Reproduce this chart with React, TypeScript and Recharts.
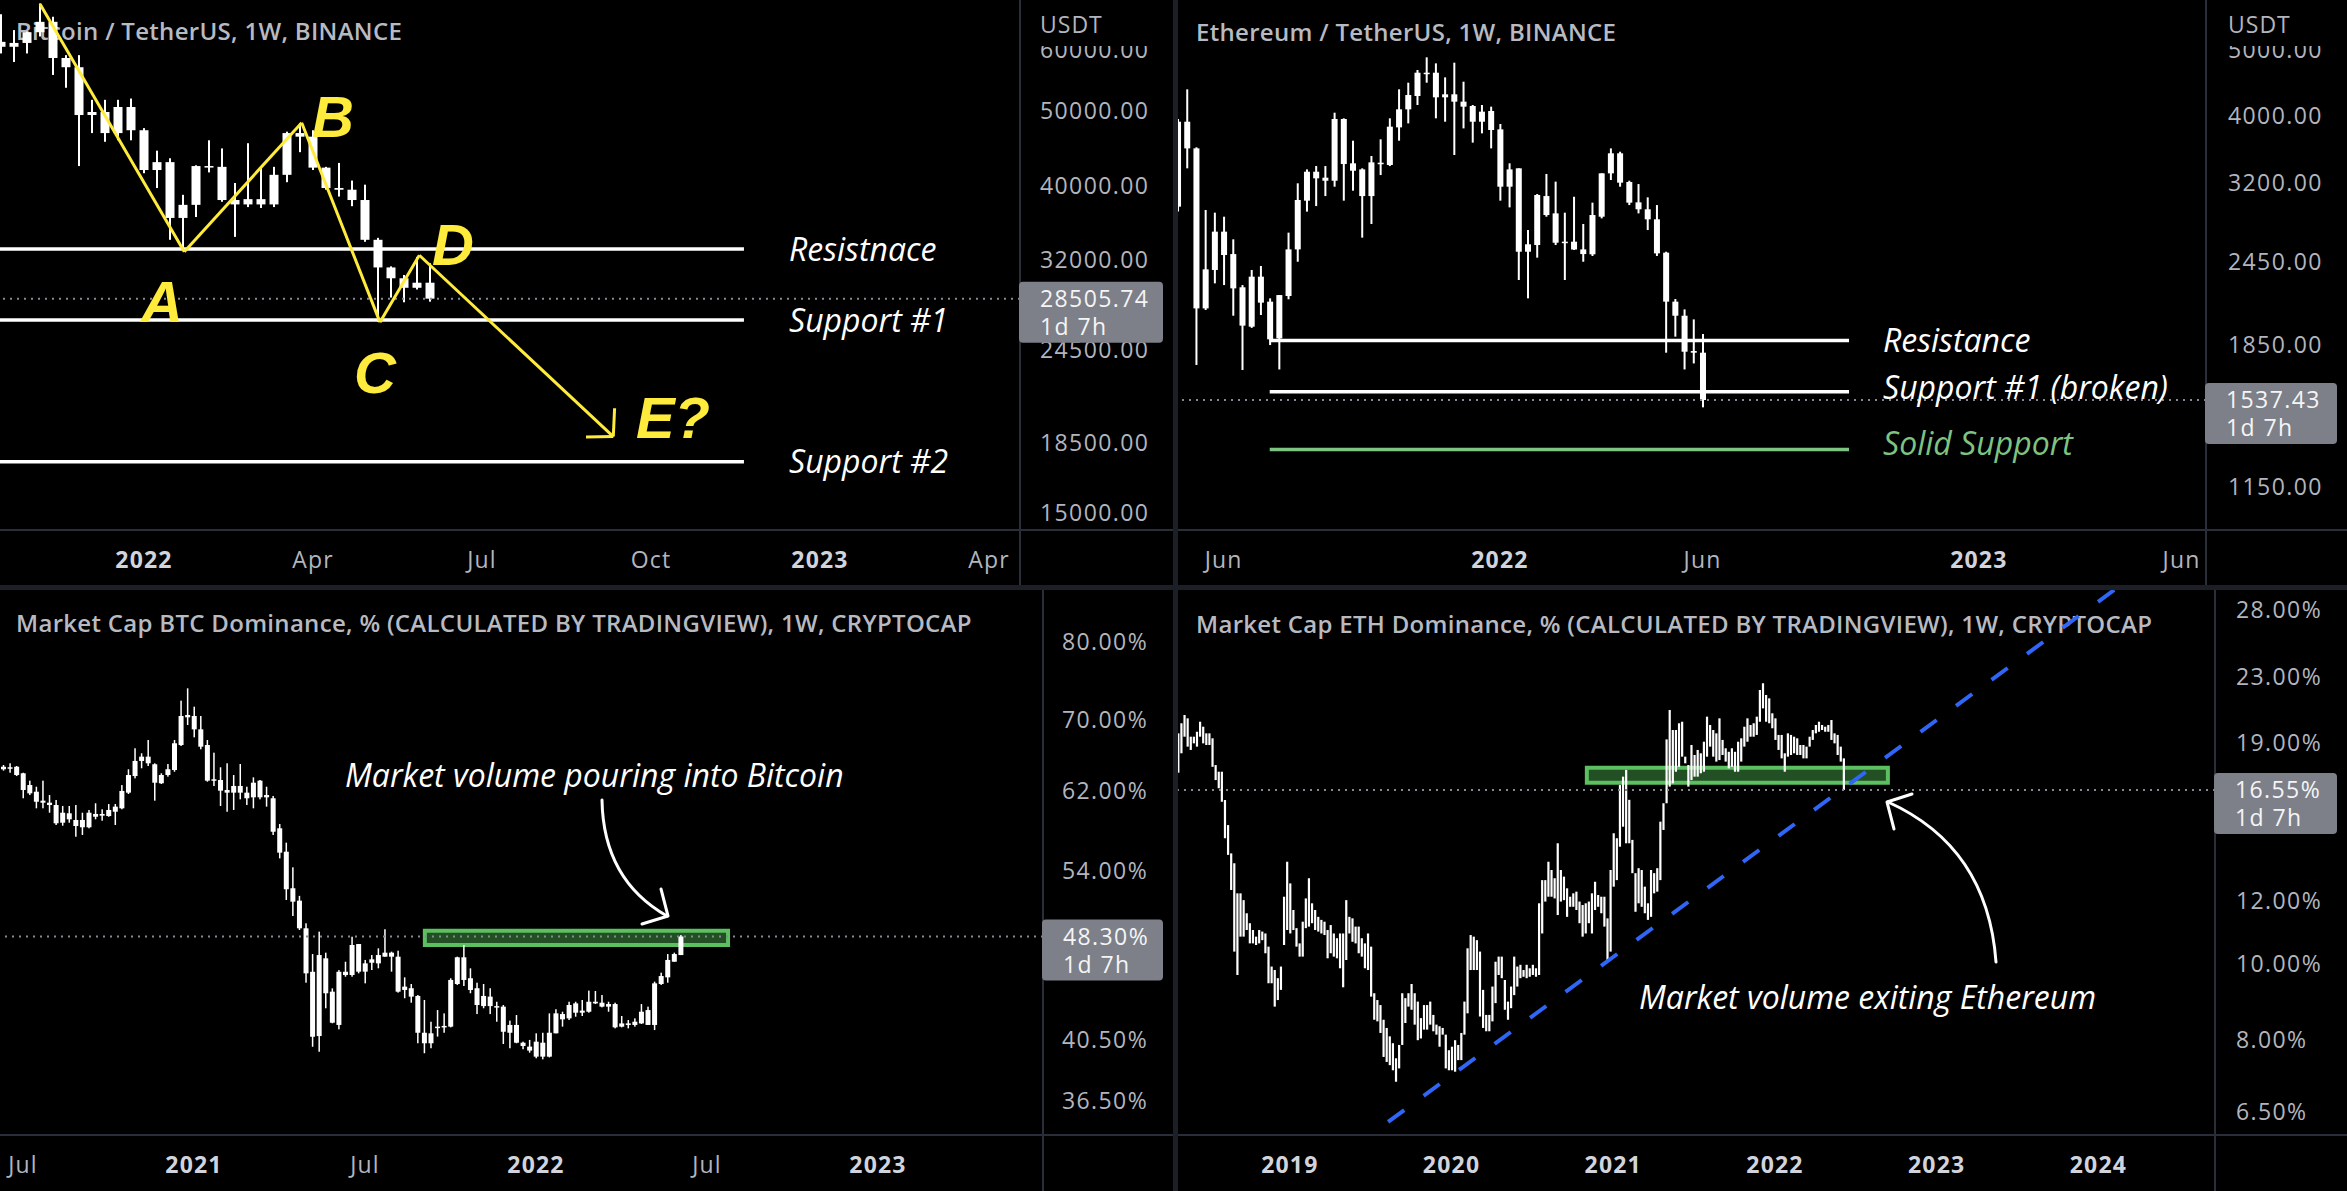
import React from 'react';
import { ComposedChart, Bar, XAxis, YAxis, ReferenceLine, ReferenceArea } from 'recharts';

const AXIS_FONT = '"Open Sans", "Noto Sans", sans-serif';
const NOTE_FONT = '"Open Sans", "Noto Sans", sans-serif';
const LETTER_FONT = '"Liberation Sans", Arial, sans-serif';
const TICK = '#b2b5be';
const BORDER = '#2a2e39';
const YELLOW = '#ffeb3b';
const GREEN = '#7fc382';

// week index 0 = week of 3 Jan 2022

// ---- Bitcoin / TetherUS, 1W  (o, h, l, c)
const btcStart = -11;
const btcOhlc = [
  [61500, 66800, 59400, 60600], [60600, 63700, 57900, 61300], [61300, 63400, 59400, 63300],
  [63300, 69000, 62500, 65300], [65300, 66300, 55700, 58600], [58600, 59100, 53600, 57000],
  [57000, 59100, 42400, 49400], [49400, 51700, 46800, 49850], [49850, 51700, 45600, 46800],
  [46800, 51700, 45800, 50600], [50600, 51900, 45800, 47200], [47200, 47500, 41500, 41900],
  [41900, 44400, 39700, 42900], [42900, 43400, 34000, 36300], [36300, 38900, 33000, 37750],
  [37750, 42500, 36400, 42400], [42400, 45800, 41600, 42300], [42300, 44700, 38100, 38300],
  [38300, 40300, 34300, 37800], [37800, 45400, 37500, 38400], [38400, 42300, 37400, 37800],
  [37800, 42300, 37500, 41300], [41300, 47000, 40400, 46800], [46800, 48200, 44200, 46300],
  [46300, 47200, 41900, 42200], [42200, 42300, 39500, 39700], [39700, 42800, 38700, 39500],
  [39500, 40600, 37600, 38300], [38300, 40100, 33800, 34000], [34000, 34200, 26600, 31300],
  [31300, 31400, 28600, 30300], [30300, 30600, 28200, 29450], [29450, 32300, 29300, 29900],
  [29900, 31700, 28250, 28505.74],
];
const btcLast = 28505.74;
const btcXTicks = [0, 13, 26, 39, 52, 65];
const btcXLabels = ['2022', 'Apr', 'Jul', 'Oct', '2023', 'Apr'];
const btcYTicks = [15000, 18500, 24500, 32000, 40000, 50000, 60000];
const btcLevels = [33070, 26740, 17490];
const btcLevelNames = ['Resistnace', 'Support #1', 'Support #2'];
const btcLevelSpan = [-12, 46.15];
const btcWave = [[-8, 68900], [3.1, 32810], [12.13, 48280], [18.15, 26570], [21.18, 32460], [36.1, 18865]];
const btcArrowHead = [[36.2, 20530], [36.1, 18865], [34.0, 18840]];

// ---- Ethereum / TetherUS, 1W  (o, h, l, c)
const ethStart = -35;
const ethOhlc = [
  [2948, 3960, 2900, 3924], [3924, 4376, 3354, 3587], [3587, 3600, 1730, 2093], [2093, 2915, 2082, 2387],
  [2382, 2889, 2277, 2710], [2710, 2850, 2264, 2505], [2513, 2641, 2042, 2239], [2247, 2264, 1701, 1975],
  [1968, 2382, 1960, 2329], [2329, 2414, 2047, 2134], [2141, 2165, 1850, 1886], [1892, 2189, 1704, 2189],
  [2182, 2701, 2158, 2553], [2553, 3189, 2449, 3015], [3008, 3342, 2899, 3316], [3316, 3380, 2954, 3243],
  [3250, 3380, 3055, 3217], [3217, 4045, 3153, 3960], [3960, 3969, 3008, 3403], [3411, 3681, 3111, 3327],
  [3342, 3354, 2656, 3055], [3055, 3496, 2781, 3422], [3418, 3698, 3279, 3403], [3392, 3969, 3380, 3859],
  [3850, 4376, 3681, 4091], [4091, 4475, 3902, 4293], [4279, 4670, 4151, 4628], [4608, 4874, 4475, 4628],
  [4628, 4776, 3969, 4260], [4260, 4556, 3924, 4303], [4303, 4787, 3508, 4198], [4198, 4490, 3837, 4128],
  [4137, 4151, 3657, 3924], [3924, 4151, 3773, 4059], [4068, 4128, 3587, 3816], [3824, 3894, 3008, 3153],
  [3153, 3411, 2941, 3342], [3354, 3354, 2303, 2533], [2533, 2725, 2165, 2597], [2591, 3076, 2483, 3066],
  [3055, 3291, 2850, 2866], [2882, 3207, 2591, 2611], [2611, 2889, 2303, 2620], [2620, 3048, 2548, 2552],
  [2553, 2781, 2449, 2513], [2511, 2988, 2497, 2866], [2850, 3298, 2834, 3298], [3298, 3587, 3225, 3528],
  [3528, 3547, 3153, 3196], [3203, 3217, 2964, 2988], [2991, 3181, 2882, 2922], [2922, 3042, 2725, 2825],
  [2825, 2964, 2497, 2519], [2525, 2533, 1803, 2141], [2141, 2160, 1903, 2042], [2042, 2086, 1704, 1809],
  [1813, 2017, 1739, 1803], [1803, 1920, 1500, 1537.43],
];
const ethLast = 1537.43;
const ethXTicks = [-30, 0, 22, 52, 74];
const ethXLabels = ['Jun', '2022', 'Jun', '2023', 'Jun'];
const ethYTicks = [1150, 1850, 2450, 3200, 4000, 5000];
const ethLevels = [1878, 1581];
const ethLevelNames = ['Resistance', 'Support #1 (broken)'];
const ethSolid = 1301;
const ethLevelSpan = [-25, 37.9];

// ---- BTC dominance %, 1W  (o, h, l, c)
const btcdStart = -81;
const btcdOhlc = [
  [64.56, 64.75, 64.13, 64.28], [64.5, 64.94, 63.9, 64.35], [64.56, 64.64, 63.54, 63.65], [63.84, 63.9, 61.17, 62.04],
  [62.57, 63.04, 61.51, 61.69], [61.86, 62.39, 60.13, 60.81], [60.92, 63.04, 60.13, 60.71], [60.71, 61.51, 59.68, 60.47],
  [60.47, 60.99, 58.44, 58.61], [59.68, 60.37, 58.37, 58.67], [59.62, 60.37, 58.67, 59.01], [58.94, 60.47, 57.28, 58.34],
  [58.94, 59.68, 57.45, 58.21], [59.68, 59.96, 58.11, 58.21], [59.55, 60.65, 59.01, 59.27], [59.55, 60.03, 58.87, 59.38],
  [59.96, 60.57, 59.27, 59.34], [60.3, 60.57, 58.44, 59.78], [61.94, 62.57, 60.03, 60.13], [63.65, 64.28, 61.62, 61.76],
  [65.2, 66.63, 63.29, 63.54], [65.68, 66.06, 64.39, 65.2], [65.68, 67.58, 64.64, 64.94], [64.83, 64.94, 60.92, 62.82],
  [63.65, 63.84, 62.68, 62.76], [64.28, 64.86, 63.47, 63.65], [67.2, 67.58, 64.01, 64.2], [70.41, 72.28, 66.89, 67.0],
  [70.53, 73.82, 69.33, 70.25], [70.41, 71.54, 67.89, 68.82], [68.82, 70.41, 66.51, 66.81], [67.0, 67.58, 62.93, 63.04],
  [63.19, 66.13, 62.47, 63.04], [63.11, 64.5, 60.37, 61.97], [62.04, 64.94, 59.78, 61.76], [62.47, 63.65, 59.96, 61.76],
  [62.47, 64.86, 61.06, 61.76], [61.76, 62.39, 60.47, 61.17], [62.82, 63.4, 60.13, 61.27], [63.04, 63.11, 61.06, 61.27],
  [61.51, 62.39, 60.3, 61.27], [61.17, 61.41, 57.45, 57.77], [58.11, 58.54, 55.2, 55.74], [55.83, 56.7, 51.41, 52.36],
  [52.45, 54.36, 50.02, 51.26], [51.35, 51.77, 48.84, 48.98], [48.98, 49.4, 44.63, 45.35], [45.47, 46.87, 40.0, 40.69],
  [46.79, 48.7, 39.66, 40.74], [46.53, 46.98, 42.72, 43.83], [43.95, 44.2, 41.64, 41.68], [45.47, 45.6, 41.21, 41.52],
  [45.47, 46.26, 45.09, 45.22], [47.6, 48.28, 45.09, 45.22], [47.68, 47.68, 45.35, 45.48], [46.13, 46.4, 44.58, 45.48],
  [46.45, 46.79, 45.61, 46.18], [46.79, 47.33, 45.74, 46.13], [46.98, 48.9, 46.66, 46.66], [46.98, 47.06, 45.48, 46.66],
  [46.66, 47.14, 43.88, 43.95], [44.33, 45.04, 43.46, 44.08], [44.21, 44.53, 43.13, 43.58], [43.63, 43.7, 40.24, 40.97],
  [40.97, 43.33, 39.56, 40.24], [40.93, 41.75, 39.9, 40.24], [41.4, 42.59, 40.7, 41.35], [41.45, 42.35, 40.97, 41.35],
  [44.84, 44.97, 41.35, 41.4], [46.61, 46.66, 44.46, 44.53], [46.61, 47.6, 44.38, 44.84], [44.97, 45.74, 43.83, 44.08],
  [44.21, 44.63, 42.3, 42.96], [43.63, 44.53, 42.72, 42.88], [43.58, 44.21, 42.3, 42.88], [42.88, 43.2, 41.75, 42.84],
  [42.84, 42.96, 40.19, 41.04], [41.52, 41.83, 39.9, 40.97], [41.52, 42.23, 40.24, 40.28], [40.28, 40.35, 39.83, 40.05],
  [40.01, 40.47, 39.6, 39.74], [40.35, 40.93, 39.22, 39.33], [40.28, 40.97, 39.15, 39.33], [40.97, 42.35, 39.28, 39.33],
  [42.35, 42.65, 40.93, 40.93], [42.3, 42.47, 41.4, 41.92], [42.96, 43.2, 41.87, 41.99], [43.08, 43.2, 42.11, 42.4],
  [42.55, 43.33, 42.16, 42.4], [43.2, 44.03, 42.4, 42.47], [43.2, 44.0, 43.03, 43.08], [43.13, 43.7, 42.79, 42.84],
  [43.03, 43.2, 42.47, 42.84], [43.03, 43.13, 41.28, 41.35], [41.63, 42.16, 41.35, 41.4], [41.63, 41.87, 41.28, 41.52],
  [41.75, 41.99, 41.4, 41.52], [42.47, 43.03, 41.59, 41.63], [42.59, 42.84, 41.52, 41.52], [44.58, 44.71, 41.16, 41.52],
  [45.14, 45.4, 44.46, 44.53], [46.4, 46.87, 44.63, 45.04], [46.87, 46.98, 46.26, 46.26], [48.3, 48.42, 46.79, 46.79],
];
const btcdLast = 48.3;
const btcdXTicks = [-78, -52, -26, 0, 26, 52];
const btcdXLabels = ['Jul', '2021', 'Jul', '2022', 'Jul', '2023'];
const btcdYTicks = [36.5, 40.5, 54, 62, 70, 80];
const btcdZoneX = [-16.9, 29.2];
const btcdZoneY = [47.6, 48.78];

// ---- ETH dominance %, 1W  (high, low)
const ethdStart = -192;
const ethdHL = [
  [19.52, 17.41], [20.1, 18.42], [20.59, 19.33], [20.39, 18.78], [19.33, 18.6], [19.33, 18.96], [19.61, 18.78], [20.19, 19.33], [19.9, 18.96], [19.52, 18.87],
  [19.52, 18.87], [19.24, 17.71], [17.8, 17.04], [17.46, 16.64], [17.46, 16.0], [16.08, 14.39], [14.95, 13.71], [13.77, 12.38], [13.38, 10.35], [12.26, 9.67],
  [12.26, 10.81], [12.02, 10.81], [11.57, 11.02], [11.24, 10.6], [11.02, 10.6], [10.81, 10.55], [11.02, 10.6], [10.97, 10.7], [10.91, 10.3], [10.5, 9.44],
  [9.91, 9.44], [9.81, 8.82], [9.58, 8.99], [9.91, 9.26], [12.14, 10.55], [13.44, 11.02], [12.62, 10.91], [11.68, 11.02], [11.08, 10.5], [10.6, 10.2],
  [11.29, 10.2], [12.08, 11.08], [12.81, 11.13], [11.91, 11.24], [11.68, 11.02], [11.45, 10.97], [11.35, 10.91], [11.29, 10.86], [11.02, 10.15], [11.18, 10.3],
  [10.91, 10.2], [10.76, 10.15], [10.91, 9.86], [10.91, 9.33], [12.02, 10.1], [11.45, 10.91], [11.4, 10.65], [11.13, 10.6], [11.13, 10.3], [10.76, 10.2],
  [10.6, 9.86], [10.91, 9.81], [10.5, 9.08], [9.17, 8.49], [8.99, 8.45], [8.86, 8.17], [8.49, 7.62], [8.29, 7.51], [8.09, 7.44], [7.93, 7.33],
  [7.59, 7.09], [7.89, 7.37], [9.17, 7.89], [9.04, 8.41], [9.17, 8.82], [9.42, 8.74], [9.17, 8.37], [8.95, 8.0], [8.53, 8.04], [8.86, 8.25],
  [8.86, 8.25], [8.95, 8.37], [8.61, 8.21], [8.37, 8.13], [8.33, 7.85], [8.29, 8.13], [8.13, 7.37], [7.77, 7.33], [7.85, 7.33], [8.0, 7.3],
  [7.89, 7.55], [8.17, 7.55], [8.95, 8.13], [10.45, 8.65], [10.86, 9.81], [10.81, 9.81], [10.7, 9.81], [10.35, 8.57], [9.26, 8.29], [8.61, 8.21],
  [8.61, 8.21], [9.35, 8.45], [10.05, 8.91], [10.2, 9.67], [10.2, 9.58], [9.53, 8.74], [8.95, 8.49], [9.35, 8.78], [10.2, 9.12], [9.91, 9.35],
  [9.96, 9.58], [9.81, 9.62], [9.96, 9.58], [9.86, 9.62], [9.96, 9.67], [9.86, 9.62],
  [11.91, 9.67], [12.74, 10.91], [12.74, 11.97], [13.44, 12.14], [13.12, 12.14], [12.81, 12.08], [14.18, 11.51], [13.12, 11.97], [12.87, 12.02], [12.44, 11.45],
  [12.14, 11.79], [12.26, 11.79], [12.32, 11.68], [11.97, 11.24], [11.85, 10.81], [11.91, 10.91], [11.97, 11.24], [12.26, 10.91], [12.68, 11.68], [12.2, 11.79],
  [12.14, 11.57], [12.14, 11.13], [11.4, 10.1], [13.12, 10.35], [14.6, 12.5], [14.39, 12.74], [16.8, 14.04], [17.21, 14.88], [17.55, 14.18], [16.09, 14.18],
  [14.32, 13.0], [13.0, 11.62], [13.19, 11.91], [13.12, 11.79], [12.5, 11.57], [11.91, 11.35], [13.12, 11.45], [13.0, 12.26], [13.19, 12.32], [15.1, 12.74],
  [15.93, 14.74], [19.18, 15.93], [20.89, 16.72], [19.71, 16.88], [19.71, 17.46], [20.1, 17.71], [20.19, 18.24], [18.24, 17.89], [17.8, 16.72], [18.87, 17.04],
  [18.33, 17.21], [18.6, 17.21], [18.42, 17.38], [19.05, 17.46], [20.49, 18.24], [20.0, 18.78], [19.71, 18.24], [19.52, 17.98], [20.39, 18.06], [19.15, 18.33],
  [18.69, 17.98], [18.5, 17.63], [18.69, 17.71], [18.5, 17.46], [19.05, 17.46], [19.24, 17.98], [19.9, 18.78], [20.39, 19.05], [20.0, 19.33], [20.1, 19.33],
  [20.49, 19.43], [22.14, 20.19], [22.58, 20.99], [21.82, 20.19], [21.61, 20.1], [20.69, 19.81], [20.39, 19.15], [19.43, 18.6], [19.43, 18.15], [18.42, 17.46],
  [19.52, 18.24], [19.43, 18.33], [19.33, 18.42], [19.24, 18.33], [18.87, 18.33], [18.87, 18.15], [18.78, 18.15], [19.33, 18.78], [19.71, 19.15], [20.0, 19.52],
  [20.19, 19.61], [20.0, 19.71], [19.9, 19.61], [20.0, 19.61], [20.29, 19.15], [19.52, 18.96], [19.43, 18.33], [18.78, 17.98], [18.15, 16.56],
];
const ethdLast = 16.55;
const ethdXTicks = [-156, -104, -52, 0, 52, 104];
const ethdXLabels = ['2019', '2020', '2021', '2022', '2023', '2024'];
const ethdYTicks = [6.5, 8, 10, 12, 19, 23, 28];
const ethdZoneX = [-60.5, 36.3];
const ethdZoneY = [16.91, 17.66];
const ethdTrend = [[-124.4, 6.31], [115, 30.8]];

type Box = { x: number; y: number; w: number; h: number; pw: number; ph: number };
const BTC_BOX: Box = { x: 0, y: 0, w: 1173, h: 585, pw: 1020, ph: 530 };
const ETH_BOX: Box = { x: 1178, y: 0, w: 1169, h: 585, pw: 1028, ph: 530 };
const BTCD_BOX: Box = { x: 0, y: 590, w: 1173, h: 601, pw: 1043, ph: 545 };
const ETHD_BOX: Box = { x: 1178, y: 590, w: 1169, h: 601, pw: 1037, ph: 545 };

const BTC_X = [-11.077, 67.385];
const BTC_Y = [14260, 69710];
const ETH_X = [-34.96, 76.66];
const ETH_Y = [992.5, 5911.6];
const BTCD_X = [-81.5, 77.09];
const BTCD_Y = [34.4, 87.33];
const ETHD_X = [-191.96, 141.48];
const ETHD_Y = [6.073, 29.61];

const ohlcRows = (start: number, arr: number[][]) =>
  arr.map((r, i) => ({ t: start + i, o: r[0], h: r[1], l: r[2], c: r[3] }));
const hlRows = (start: number, arr: number[][]) => arr.map((r, i) => ({ t: start + i, h: r[0], l: r[1] }));

const candleShape = (wick: number) => (p: any) => {
  const { x, y, width, height, payload } = p;
  if (x == null || y == null || !payload) return <g />;
  const { o, h, l, c } = payload;
  const lh = Math.log(h);
  const ll = Math.log(l);
  const at = (v: number) => (lh === ll ? y : y + (height * (lh - Math.log(v))) / (lh - ll));
  const mid = x + width / 2;
  const top = at(Math.max(o, c));
  const bot = at(Math.min(o, c));
  return (
    <g>
      <rect x={mid - wick / 2} y={y} width={wick} height={Math.max(height, 1)} fill="#ffffff" />
      <rect x={x} y={top} width={width} height={Math.max(bot - top, 1.5)} fill="#ffffff" />
    </g>
  );
};

const stickShape = (p: any) => {
  const { x, y, width, height } = p;
  if (x == null || y == null) return <g />;
  return <rect x={x + width / 2 - 1.1} y={y} width={2.2} height={Math.max(height, 1)} fill="#ffffff" />;
};

const yOf = (v: number, dom: number[], box: Box) =>
  box.y + (box.ph * Math.log(dom[1] / v)) / Math.log(dom[1] / dom[0]);

function Panel(props: any) {
  const { box, rows, xDomain, yDomain, xTicks, xLabels, yTicks, yFmt, yLabelX, xLabelY, barSize, shape, under, over } = props;
  const xTick = (p: any) => {
    const lab = xLabels[xTicks.indexOf(p.payload.value)] ?? '';
    const year = /^\d{4}$/.test(lab);
    return (
      <text x={p.x} y={xLabelY} textAnchor="middle" fill={year ? '#d1d4dc' : TICK} fontSize={23}
        fontWeight={year ? 700 : 400} fontFamily={AXIS_FONT} letterSpacing={1.2}>{lab}</text>
    );
  };
  const yTick = (p: any) => (
    <text x={yLabelX} y={p.y} dy="0.36em" textAnchor="start" fill={TICK} fontSize={23}
      fontFamily={AXIS_FONT} letterSpacing={1.4}>{yFmt(p.payload.value)}</text>
  );
  return (
    <div style={{ position: 'absolute', left: box.x, top: box.y, width: box.w, height: box.h }}>
      <ComposedChart width={box.w} height={box.h} data={rows} margin={{ top: 0, right: 0, bottom: 0, left: 0 }}>
        <XAxis type="number" dataKey="t" domain={xDomain} allowDataOverflow ticks={xTicks} interval={0}
          height={box.h - box.ph} axisLine={false} tickLine={false} tickSize={0} tickMargin={0} tick={xTick} />
        <YAxis orientation="right" type="number" scale="log" domain={yDomain} allowDataOverflow ticks={yTicks}
          interval={0} width={box.w - box.pw} axisLine={false} tickLine={false} tickSize={0} tickMargin={0} tick={yTick} />
        {under}
        <Bar dataKey={(d: any) => [d.l, d.h]} barSize={barSize} isAnimationActive={false} shape={shape} />
        {over}
      </ComposedChart>
    </div>
  );
}

const dotted = (v: number) => (
  <ReferenceLine key="last" y={v} stroke="#868993" strokeWidth={2} strokeDasharray="2 5" ifOverflow="hidden" />
);

const pct = (v: number) => v.toFixed(2) + '%';
const usd = (v: number) => v.toFixed(2);

const NoteText = ({ x, y, children, color = '#ffffff', size = 32 }: any) => (
  <text x={x} y={y} dy="0.36em" fill={color} fontSize={size} fontStyle="italic" fontFamily={NOTE_FONT}>{children}</text>
);

const Letter = ({ x, y, children }: any) => (
  <text x={x} y={y} textAnchor="middle" fill={YELLOW} fontSize={58} fontWeight={700} fontStyle="italic"
    fontFamily={LETTER_FONT}>{children}</text>
);

const PriceTag = ({ box, dom, v, text }: any) => {
  const cy = yOf(v, dom, box);
  const left = box.x + box.pw - 1;
  return (
    <g>
      <rect x={left} y={cy - 17} width={box.x + box.w - 10 - left} height={61} rx={4} fill="#7d8089" />
      <text x={left + 21} y={cy} dy="0.36em" fill="#f5f5f5" fontSize={23} fontFamily={AXIS_FONT} letterSpacing={1.4}>{text}</text>
      <text x={left + 21} y={cy + 28} dy="0.36em" fill="#f5f5f5" fontSize={23} fontFamily={AXIS_FONT} letterSpacing={1.4}>1d 7h</text>
    </g>
  );
};

const Borders = ({ box }: { box: Box }) => (
  <g>
    <rect x={box.x + box.pw - 1} y={box.y} width={2} height={box.h} fill={BORDER} />
    <rect x={box.x} y={box.y + box.ph - 1} width={box.w} height={2} fill={BORDER} />
  </g>
);

const Title = ({ x, y, children }: any) => (
  <text x={x} y={y} dy="0.36em" fill="#b8bac2" fontSize={24} fontWeight={600} fontFamily={AXIS_FONT} letterSpacing={0.3}>{children}</text>
);

export default function App() {
  const segs = (pts: number[][]) =>
    pts.slice(1).map((p, i) => (
      <ReferenceLine key={`w${i}`} segment={[{ x: pts[i][0], y: pts[i][1] }, { x: p[0], y: p[1] }]}
        stroke={YELLOW} strokeWidth={3} ifOverflow="visible" />
    ));

  const btcUnder = [
    dotted(btcLast),
    ...btcLevels.map((v, i) => (
      <ReferenceLine key={`lv${i}`} segment={[{ x: btcLevelSpan[0], y: v }, { x: btcLevelSpan[1], y: v }]}
        stroke="#ffffff" strokeWidth={3.5} ifOverflow="hidden" />
    )),
  ];
  const btcOver = [...segs(btcWave), ...segs(btcArrowHead)];

  const ethUnder = [
    dotted(ethLast),
    ...ethLevels.map((v, i) => (
      <ReferenceLine key={`lv${i}`} segment={[{ x: ethLevelSpan[0], y: v }, { x: ethLevelSpan[1], y: v }]}
        stroke="#ffffff" strokeWidth={3.5} ifOverflow="hidden" />
    )),
    <ReferenceLine key="solid" segment={[{ x: ethLevelSpan[0], y: ethSolid }, { x: ethLevelSpan[1], y: ethSolid }]}
      stroke={GREEN} strokeWidth={3.5} ifOverflow="hidden" />,
  ];

  const zone = (xs: number[], ys: number[]) => (
    <ReferenceArea key="zone" x1={xs[0]} x2={xs[1]} y1={ys[0]} y2={ys[1]} fill="#4caf50" fillOpacity={0.45}
      stroke="#5cbf60" strokeWidth={4} ifOverflow="hidden" />
  );

  const btcdUnder = [zone(btcdZoneX, btcdZoneY), dotted(btcdLast)];
  const ethdUnder = [zone(ethdZoneX, ethdZoneY), dotted(ethdLast)];
  const ethdOver = [
    <ReferenceLine key="trend" segment={[{ x: ethdTrend[0][0], y: ethdTrend[0][1] }, { x: ethdTrend[1][0], y: ethdTrend[1][1] }]}
      stroke="#2f66f5" strokeWidth={4} strokeDasharray="20 24" ifOverflow="hidden" />,
  ];

  return (
    <div style={{ position: 'absolute', left: 0, top: 0, width: 2347, height: 1191, background: '#1c1f26', overflow: 'hidden' }}>
      {[BTC_BOX, ETH_BOX, BTCD_BOX, ETHD_BOX].map((b, i) => (
        <div key={i} style={{ position: 'absolute', left: b.x, top: b.y, width: b.w, height: b.h, background: '#000' }} />
      ))}
      <svg width={2347} height={1191} style={{ position: 'absolute', left: 0, top: 0 }}>
        <Title x={16} y={31}>Bitcoin / TetherUS, 1W, BINANCE</Title>
        <Title x={1196} y={32}>Ethereum / TetherUS, 1W, BINANCE</Title>
        <Title x={16} y={623}>Market Cap BTC Dominance, % (CALCULATED BY TRADINGVIEW), 1W, CRYPTOCAP</Title>
        <Title x={1196} y={624}>Market Cap ETH Dominance, % (CALCULATED BY TRADINGVIEW), 1W, CRYPTOCAP</Title>
      </svg>

      <Panel box={BTC_BOX} rows={ohlcRows(btcStart, btcOhlc)} xDomain={BTC_X} yDomain={BTC_Y}
        xTicks={btcXTicks} xLabels={btcXLabels} yTicks={btcYTicks} yFmt={usd} yLabelX={1040} xLabelY={568}
        barSize={9} shape={candleShape(2)} under={btcUnder} over={btcOver} />
      <Panel box={ETH_BOX} rows={ohlcRows(ethStart, ethOhlc)} xDomain={ETH_X} yDomain={ETH_Y}
        xTicks={ethXTicks} xLabels={ethXLabels} yTicks={ethYTicks} yFmt={usd} yLabelX={1050} xLabelY={568}
        barSize={6} shape={candleShape(2)} under={ethUnder} over={null} />
      <Panel box={BTCD_BOX} rows={ohlcRows(btcdStart, btcdOhlc)} xDomain={BTCD_X} yDomain={BTCD_Y}
        xTicks={btcdXTicks} xLabels={btcdXLabels} yTicks={btcdYTicks} yFmt={pct} yLabelX={1062} xLabelY={583}
        barSize={5} shape={candleShape(1.5)} under={btcdUnder} over={null} />
      <Panel box={ETHD_BOX} rows={hlRows(ethdStart, ethdHL)} xDomain={ETHD_X} yDomain={ETHD_Y}
        xTicks={ethdXTicks} xLabels={ethdXLabels} yTicks={ethdYTicks} yFmt={pct} yLabelX={1058} xLabelY={583}
        barSize={2} shape={stickShape} under={ethdUnder} over={ethdOver} />

      <svg width={2347} height={1191} style={{ position: 'absolute', left: 0, top: 0, pointerEvents: 'none' }}>
        {[BTC_BOX, ETH_BOX, BTCD_BOX, ETHD_BOX].map((b, i) => <Borders key={i} box={b} />)}

        {btcLevelNames.map((n, i) => (
          <NoteText key={n} x={789} y={yOf(btcLevels[i], BTC_Y, BTC_BOX)}>{n}</NoteText>
        ))}
        <Letter x={162} y={322}>A</Letter>
        <Letter x={333} y={137}>B</Letter>
        <Letter x={375} y={393}>C</Letter>
        <Letter x={453} y={265}>D</Letter>
        <Letter x={673} y={438}>E?</Letter>

        <NoteText x={1883} y={yOf(ethLevels[0], ETH_Y, ETH_BOX)}>{ethLevelNames[0]}</NoteText>
        <NoteText x={1883} y={yOf(ethLevels[1], ETH_Y, ETH_BOX) - 4}>{ethLevelNames[1]}</NoteText>
        <NoteText x={1883} y={yOf(ethSolid, ETH_Y, ETH_BOX) - 6} color={GREEN}>Solid Support</NoteText>

        <NoteText x={345} y={775}>Market volume pouring into Bitcoin</NoteText>
        <path d="M602,800 C603,860 630,895 667,916" fill="none" stroke="#fff" strokeWidth={3} strokeLinecap="round" />
        <path d="M661,889 L668,916 L642,924" fill="none" stroke="#fff" strokeWidth={3} strokeLinecap="round" strokeLinejoin="round" />

        <NoteText x={1639} y={997}>Market volume exiting Ethereum</NoteText>
        <path d="M1996,962 C1990,880 1950,830 1888,802" fill="none" stroke="#fff" strokeWidth={3} strokeLinecap="round" />
        <path d="M1894,829 L1887,802 L1912,794" fill="none" stroke="#fff" strokeWidth={3} strokeLinecap="round" strokeLinejoin="round" />

        <PriceTag box={BTC_BOX} dom={BTC_Y} v={btcLast} text={btcLast.toFixed(2)} />
        <PriceTag box={ETH_BOX} dom={ETH_Y} v={ethLast} text={ethLast.toFixed(2)} />
        <PriceTag box={BTCD_BOX} dom={BTCD_Y} v={btcdLast} text={pct(btcdLast)} />
        <PriceTag box={ETHD_BOX} dom={ETHD_Y} v={ethdLast} text={pct(ethdLast)} />

        <rect x={1021} y={0} width={152} height={46} fill="#000" />
        <text x={1040} y={25} dy="0.36em" fill={TICK} fontSize={23} fontFamily={AXIS_FONT} letterSpacing={1}>USDT</text>
        <rect x={2207} y={0} width={140} height={46} fill="#000" />
        <text x={2228} y={25} dy="0.36em" fill={TICK} fontSize={23} fontFamily={AXIS_FONT} letterSpacing={1}>USDT</text>
      </svg>
    </div>
  );
}
